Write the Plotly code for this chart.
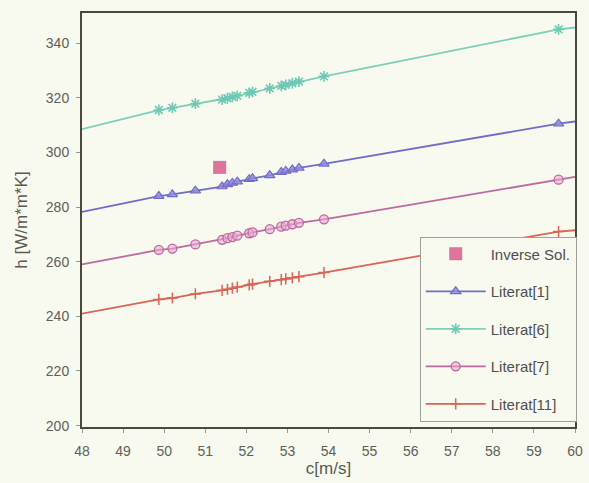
import plotly.graph_objects as go

# measured velocities c [m/s] at which markers are drawn
c_marks = [49.87, 50.2, 50.76, 51.41, 51.54, 51.66, 51.78, 52.07, 52.15,
           52.57, 52.85, 52.96, 53.12, 53.28, 53.89, 59.6]
# curve end points
c_left = 48.0
c_right = 60.0

lit1 = [284.0, 284.6, 286.0, 287.5, 288.3, 288.8, 289.3, 290.2, 290.5,
        291.6, 292.8, 293.2, 293.7, 294.3, 295.8, 310.5]
lit1_ends = [278.2, 311.3]

lit6 = [315.5, 316.3, 317.8, 319.3, 319.8, 320.3, 320.7, 321.8, 322.1,
        323.4, 324.3, 324.7, 325.3, 325.9, 327.8, 345.0]
lit6_ends = [308.5, 345.7]

lit7 = [264.3, 264.8, 266.3, 268.0, 268.6, 269.0, 269.5, 270.4, 270.7,
        271.9, 272.8, 273.2, 273.7, 274.2, 275.5, 290.0]
lit7_ends = [259.0, 291.0]

lit11 = [246.2, 246.7, 248.2, 249.5, 249.9, 250.3, 250.7, 251.5, 251.8,
         252.8, 253.4, 253.7, 254.1, 254.5, 256.0, 271.0]
lit11_ends = [241.0, 271.5]

inv_c = [51.35]
inv_h = [294.5]

x_ticks = list(range(48, 61))
y_ticks = list(range(200, 341, 20))

BG = "rgb(248,250,240)"
FONT = "Liberation Sans, Arial, sans-serif"

series = [
    ("Literat[1]", lit1, lit1_ends, "rgb(112,108,200)",
     dict(symbol="triangle-up", size=9, color="rgba(150,140,220,0.8)",
          line=dict(color="rgb(112,108,200)", width=1.2))),
    ("Literat[6]", lit6, lit6_ends, "rgb(125,208,188)",
     dict(symbol="asterisk-open", size=9, color="rgb(110,200,180)",
          line=dict(color="rgb(110,200,180)", width=1.6))),
    ("Literat[7]", lit7, lit7_ends, "rgb(190,105,160)",
     dict(symbol="circle", size=9, color="rgba(230,170,210,0.6)",
          line=dict(color="rgb(190,105,160)", width=1.3))),
    ("Literat[11]", lit11, lit11_ends, "rgb(218,100,85)",
     dict(symbol="cross-thin-open", size=8, color="rgb(218,100,85)",
          line=dict(color="rgb(218,100,85)", width=1.5))),
]

fig = go.Figure()

fig.add_trace(go.Scatter(
    x=inv_c, y=inv_h, mode="markers", name="Inverse Sol.",
    legendgroup="inv",
    marker=dict(symbol="square", size=13, color="rgb(222,115,155)",
                line=dict(width=0)),
))

for name, ys, ends, col, mk in series:
    xs = [c_left] + c_marks + [c_right]
    yl = [ends[0]] + ys + [ends[1]]
    fig.add_trace(go.Scatter(
        x=xs, y=yl, mode="lines", line=dict(color=col, width=1.8),
        showlegend=False, legendgroup=name, hoverinfo="skip"))
    fig.add_trace(go.Scatter(
        x=c_marks, y=ys, mode="markers", marker=mk,
        showlegend=False, legendgroup=name, name=name))
    fig.add_trace(go.Scatter(
        x=[None], y=[None], mode="lines+markers", name=name,
        legendgroup=name, line=dict(color=col, width=1.8), marker=mk))

axis_common = dict(
    showline=True, linecolor="rgb(75,72,62)", linewidth=2, mirror=True,
    ticks="outside", ticklen=4, tickcolor="rgb(150,150,140)",
    showgrid=False, zeroline=False, automargin=False,
    tickfont=dict(family=FONT, size=14, color="rgb(95,95,90)"),
)

fig.update_layout(
    width=589, height=483,
    margin=dict(l=82, r=12, t=13, b=56),
    paper_bgcolor=BG, plot_bgcolor=BG,
    font=dict(family=FONT, color="rgb(90,90,85)"),
    xaxis=dict(range=[48, 60], tickvals=x_ticks, ticklabelstandoff=6,
               title=dict(text="c[m/s]", font=dict(family=FONT, size=17),
                          standoff=0),
               **axis_common),
    yaxis=dict(range=[199.5, 351], tickvals=y_ticks, ticklabelstandoff=4,
               title=dict(text="h [W/m*m*K]", font=dict(family=FONT, size=17),
                          standoff=14),
               **axis_common),
    legend=dict(
        x=0.685, y=0.46, xanchor="left", yanchor="top",
        bgcolor=BG, bordercolor="rgb(160,160,155)", borderwidth=1,
        font=dict(family=FONT, size=15, color="rgb(80,80,80)"),
        tracegroupgap=15, itemwidth=60,
        traceorder="grouped",
    ),
)

fig.write_html("out.html")
